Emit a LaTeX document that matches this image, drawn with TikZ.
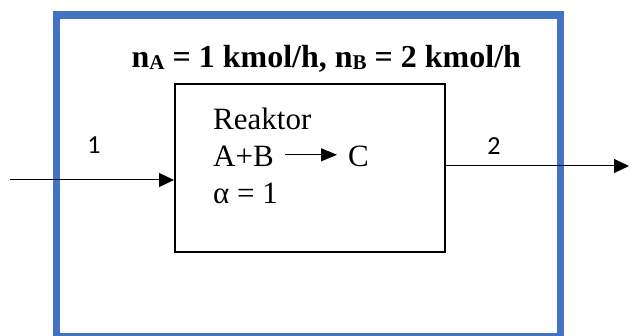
\documentclass[tikz,border=0pt]{standalone}
\usepackage{fontspec}
\setmainfont{Liberation Serif}
\newfontfamily\labelfont{Carlito}
\usetikzlibrary{arrows.meta,calc}
\definecolor{sysblue}{HTML}{4472C4}
\begin{document}
\begin{tikzpicture}[x=1pt,y=-1pt,
  boxtext/.style={anchor=base west, inner sep=0pt, font=\fontsize{31}{37}\selectfont},
  titletext/.style={anchor=base west, inner sep=0pt, font=\fontsize{32}{38}\selectfont\bfseries},
  streamlabel/.style={inner sep=0pt, font=\labelfont\fontsize{26}{30}\selectfont},
  flow/.style={line width=1pt, -{Triangle[length=15pt,width=14pt]}},
  rxarrow/.style={line width=1pt, -{Triangle[length=16pt,width=13pt]}}]
\useasboundingbox (0,0) rectangle (630,336);
% system boundary
\node[draw=sysblue, line width=7.5pt, minimum width=504.2pt, minimum height=322pt, inner sep=0pt] (system) at (308.4,176) {};
% reactor
\node[draw, line width=2pt, minimum width=270pt, minimum height=168pt, inner sep=0pt] (reactor) at (310,168) {};
% title
\node[titletext] (title) at (131.5,68) {n{\fontsize{21}{21}\selectfont\raisebox{-2pt}{A}} = 1 kmol/h, n{\fontsize{21}{21}\selectfont\raisebox{-2pt}{B}} = 2 kmol/h};
% reactor texts
\node[boxtext] (name) at (213,130) {Reaktor};
\node[boxtext] (AB) at (213,167) {A+B};
\node[boxtext] (C) at (348,167) {C};
\node[boxtext] (alpha) at (213,204) {α = 1};
\draw[rxarrow] ($(AB.east -| name.west)+(72,-2)$) -- ($(AB.east -| C.west)+(-11,-2)$);
% stream labels
\node[streamlabel] (l1) at (94,145) {1};
\node[streamlabel] (l2) at (494,146) {2};
% streams
\coordinate (feed) at (10,180);
\coordinate (product) at (629,166);
\draw[flow] (feed) -- (feed -| reactor.west);
\draw[flow] (reactor.east |- product) -- (product);
\end{tikzpicture}
\end{document}
